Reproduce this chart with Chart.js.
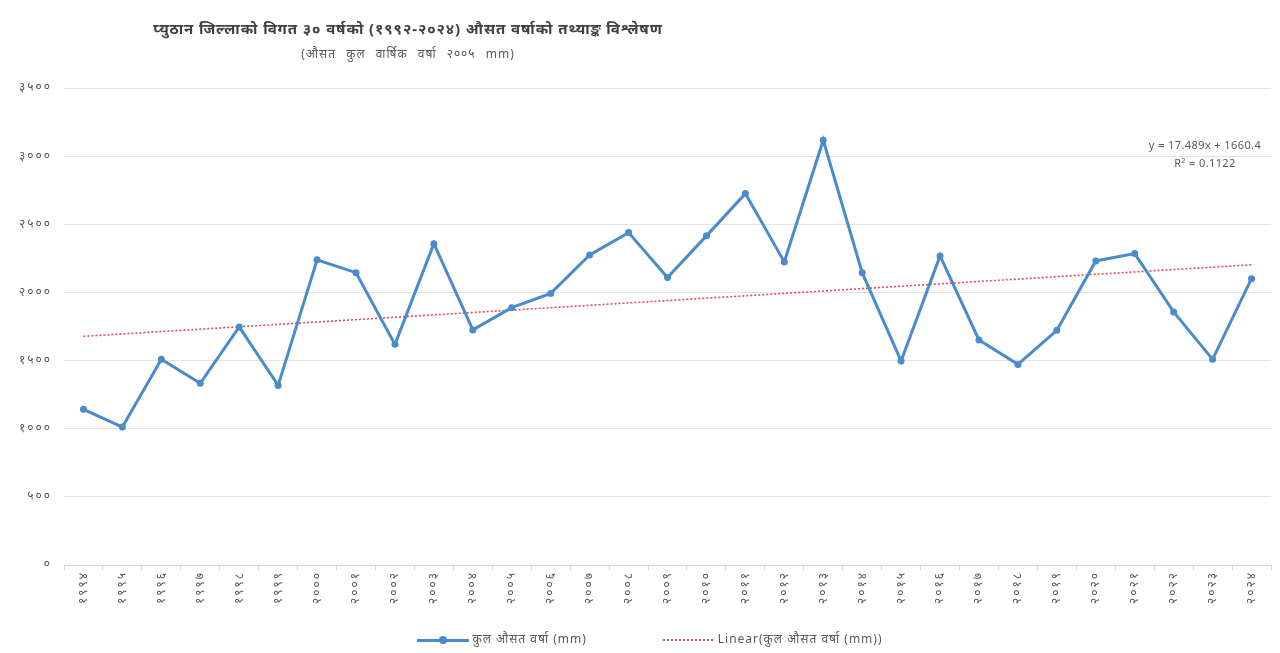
<!DOCTYPE html>
<html>
<head>
<meta charset="utf-8">
<script src="https://cdn.jsdelivr.net/npm/chart.js@4.4.1/dist/chart.umd.min.js"></script>
<style>
    html, body { margin: 0; padding: 0; background: #fff; }
    #wrap { position: relative; width: 1280px; height: 653px; font-family: "Noto Sans", "DejaVu Sans", sans-serif; }
    #rain-chart { position: absolute; left: 0; top: 0; }
    .title { position: absolute; left: 108px; width: 600px; text-align: center; color: #404040; white-space: nowrap; }
    #main-title { top: 18px; font-size: 15px; font-weight: bold; letter-spacing: 0.9px; }
    #sub-title { top: 45px; font-size: 12px; color: #595959; letter-spacing: 1px; word-spacing: 6px; }
    #equation { position: absolute; left: 1130px; top: 136px; width: 150px; text-align: center; font-size: 11px; line-height: 18px; color: #595959; letter-spacing: 0.4px; }
    #legend { position: absolute; left: 10px; width: 1280px; top: 629px; text-align: center; font-size: 12px; color: #595959; letter-spacing: 1px; white-space: nowrap; }
    .item { display: inline-block; margin: 0 38px; vertical-align: middle; }
    .swatch { display: inline-block; position: relative; width: 52px; height: 10px; vertical-align: middle; margin-right: 3px; }
    .swatch .ln { position: absolute; left: 0; right: 0; top: 4px; }
    .swatch .dot { position: absolute; left: 22px; top: 1px; width: 8px; height: 8px; border-radius: 50%; }
</style>
</head>
<body>
<div id="wrap">
    <canvas id="rain-chart" width="1280" height="653"></canvas>
    <div class="title" id="main-title">प्युठान जिल्लाको विगत ३० वर्षको (१९९२-२०२४) औसत वर्षाको तथ्याङ्क विश्लेषण</div>
    <div class="title" id="sub-title">(औसत कुल वार्षिक वर्षा २००५ mm)</div>
    <div id="equation">y = 17.489x + 1660.4<br>R² = 0.1122</div>
    <div id="legend"></div>
</div>
<script>
const years = ['१९९४', '१९९५', '१९९६', '१९९७', '१९९८', '१९९९', '२०००', '२००१', '२००२', '२००३',
    '२००४', '२००५', '२००६', '२००७', '२००८', '२००९', '२०१०', '२०११', '२०१२', '२०१३',
    '२०१४', '२०१५', '२०१६', '२०१७', '२०१८', '२०१९', '२०२०', '२०२१', '२०२२', '२०२३', '२०२४'];

const rainfall = [1142, 1012, 1509, 1333, 1747, 1318, 2239, 2145, 1619, 2358,
    1725, 1888, 1993, 2275, 2439, 2109, 2415, 2725, 2224, 3117,
    2145, 1497, 2268, 1651, 1472, 1722, 2231, 2285, 1857, 1509, 2101];

// trendline ends (Excel linear fit)
const trendStart = 1678;
const trendEnd = 2203;

const yTickLabels = ['०', '५००', '१०००', '१५००', '२०००', '२५००', '३०००', '३५००'];

const seriesLabel = 'कुल औसत वर्षा (mm)';
const trendLabel = 'Linear(कुल औसत वर्षा (mm))';

// Excel-ish wide tick text: canvas letterSpacing while the chart draws
const spacedText = {
    id: 'spacedText',
    beforeDraw(chart) { chart.ctx.letterSpacing = '2px'; },
    afterDraw(chart) { chart.ctx.letterSpacing = '0px'; }
};

function buildLegend(chart) {
    const box = document.getElementById('legend');
    box.innerHTML = chart.data.datasets.map((ds, i) => {
        const ln = i === 0
            ? `<span class="ln" style="height:3px;background:${ds.borderColor}"></span><span class="dot" style="background:${ds.borderColor}"></span>`
            : `<span class="ln" style="top:4px;height:2px;background:repeating-linear-gradient(90deg,${ds.borderColor} 0 2px,transparent 2px 4px)"></span>`;
        return `<span class="item"><span class="swatch">${ln}</span>${ds.label}</span>`;
    }).join('');
}

function setupRainChart() {
    const trend = years.map((_, i) => i === 0 ? trendStart : (i === years.length - 1 ? trendEnd : null));
    const font = { family: '"Noto Sans", "DejaVu Sans", sans-serif', size: 12 };

    const chart = new Chart(document.getElementById('rain-chart'), {
        type: 'line',
        data: {
            labels: years,
            datasets: [
                {
                    label: seriesLabel,
                    data: rainfall,
                    borderColor: '#4a8bcb',
                    backgroundColor: '#4a8bcb',
                    borderWidth: 3,
                    pointRadius: 3.5,
                    pointBorderWidth: 0,
                    tension: 0,
                    fill: false,
                    order: 1
                },
                {
                    label: trendLabel,
                    data: trend,
                    spanGaps: true,
                    borderColor: '#f0484f',
                    backgroundColor: '#f0484f',
                    borderWidth: 1.6,
                    borderDash: [2, 2],
                    pointRadius: 0,
                    fill: false,
                    order: 2
                }
            ]
        },
        options: {
            responsive: false,
            animation: false,
            layout: { padding: { top: 88, right: 9, left: 0, bottom: 0 } },
            plugins: {
                title: { display: false },
                tooltip: { enabled: false },
                legend: { display: false }
            },
            scales: {
                x: {
                    offset: true,
                    grid: { offset: true, drawOnChartArea: false, drawTicks: true, tickLength: 5, color: '#d9d9d9' },
                    border: { display: true, color: '#d9d9d9' },
                    ticks: { color: '#595959', font: font, minRotation: 90, maxRotation: 90, autoSkip: false, padding: 1 },
                    afterFit: scale => { scale.height = 88; }
                },
                y: {
                    min: 0,
                    max: 3500,
                    border: { display: false },
                    grid: { color: '#e3e3e3', drawTicks: false },
                    ticks: {
                        stepSize: 500,
                        color: '#595959',
                        font: font,
                        padding: 12,
                        callback: value => yTickLabels[value / 500]
                    },
                    afterFit: scale => { scale.width = 64; }
                }
            }
        },
        plugins: [spacedText]
    });

    buildLegend(chart);
}

setupRainChart();
</script>
</body>
</html>
